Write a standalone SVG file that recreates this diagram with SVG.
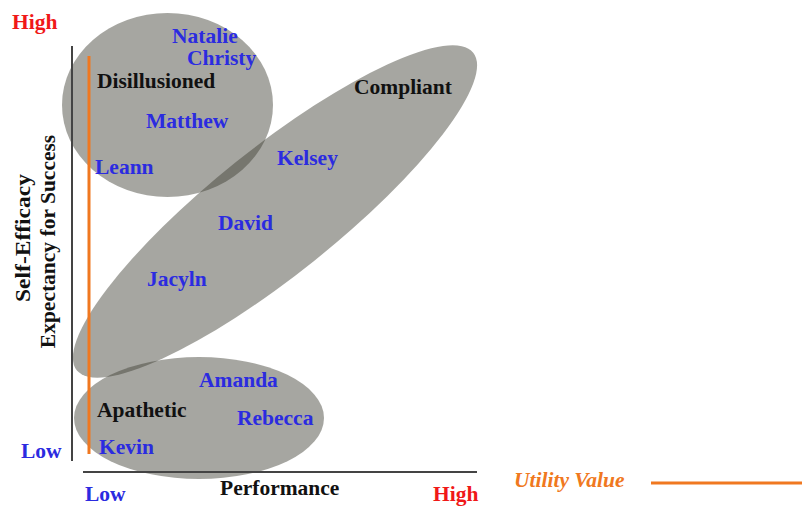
<svg xmlns="http://www.w3.org/2000/svg" width="802" height="506" viewBox="0 0 802 506">
<style>
  .region { fill: #3d3d33; fill-opacity: 0.46; stroke: none; }
  .lbl { font-family: "Liberation Serif", "Times New Roman", serif; font-weight: bold; font-size: 21.5px; }
  .name { fill: #2b2be0; }
  .cat { fill: #111111; }
  .red { fill: #f01818; }
  .blue { fill: #2b2be0; }
  .axis { stroke: #444444; stroke-width: 2; fill: none; }
  .uv { stroke: #f07820; stroke-width: 3; fill: none; }
</style>
<rect width="802" height="506" fill="#ffffff"/>

<g id="regions">
  <ellipse id="region-disillusioned" class="region" cx="167.5" cy="105" rx="105.5" ry="92"/>
  <ellipse id="region-compliant" class="region" cx="275" cy="211.5" rx="254" ry="63" transform="rotate(-38.7 275 211.5)"/>
  <ellipse id="region-apathetic" class="region" cx="199" cy="418" rx="125" ry="61"/>
</g>

<g id="connectors">
  <line id="y-axis" class="axis" x1="72" y1="46" x2="72" y2="461"/>
  <line id="x-axis" class="axis" x1="83" y1="472" x2="477" y2="472" stroke="#333333"/>
  <line id="utility-line" class="uv" x1="89" y1="56" x2="89" y2="454"/>
  <line id="utility-legend-line" class="uv" x1="651" y1="483" x2="802" y2="483"/>
</g>

<g id="axis-labels">
  <text class="lbl red" x="12" y="29">High</text>
  <text class="lbl blue" x="21" y="458">Low</text>
  <text class="lbl blue" x="85" y="501">Low</text>
  <text class="lbl cat" x="220" y="495">Performance</text>
  <text class="lbl red" x="433" y="501">High</text>
  <text class="lbl cat" text-anchor="middle" textLength="128" lengthAdjust="spacingAndGlyphs" transform="translate(30 238) rotate(-90)">Self-Efficacy</text>
  <text class="lbl cat" text-anchor="middle" transform="translate(55 241.5) rotate(-90)">Expectancy for Success</text>
  <text class="lbl" x="514" y="487" font-style="italic" fill="#f07820">Utility Value</text>
</g>

<g id="cat-disillusioned"><text class="lbl cat" x="97" y="88">Disillusioned</text></g>
<g id="cat-compliant"><text class="lbl cat" x="354" y="94">Compliant</text></g>
<g id="cat-apathetic"><text class="lbl cat" x="97" y="417">Apathetic</text></g>

<g id="natalie"><text class="lbl name" x="172" y="43">Natalie</text></g>
<g id="christy"><text class="lbl name" x="187" y="65">Christy</text></g>
<g id="matthew"><text class="lbl name" x="146" y="128">Matthew</text></g>
<g id="leann"><text class="lbl name" x="95" y="174">Leann</text></g>
<g id="kelsey"><text class="lbl name" x="277" y="165">Kelsey</text></g>
<g id="david"><text class="lbl name" x="218" y="230">David</text></g>
<g id="jacyln"><text class="lbl name" x="147" y="286">Jacyln</text></g>
<g id="amanda"><text class="lbl name" x="199" y="387">Amanda</text></g>
<g id="rebecca"><text class="lbl name" x="237" y="425">Rebecca</text></g>
<g id="kevin"><text class="lbl name" x="99" y="454">Kevin</text></g>
</svg>
